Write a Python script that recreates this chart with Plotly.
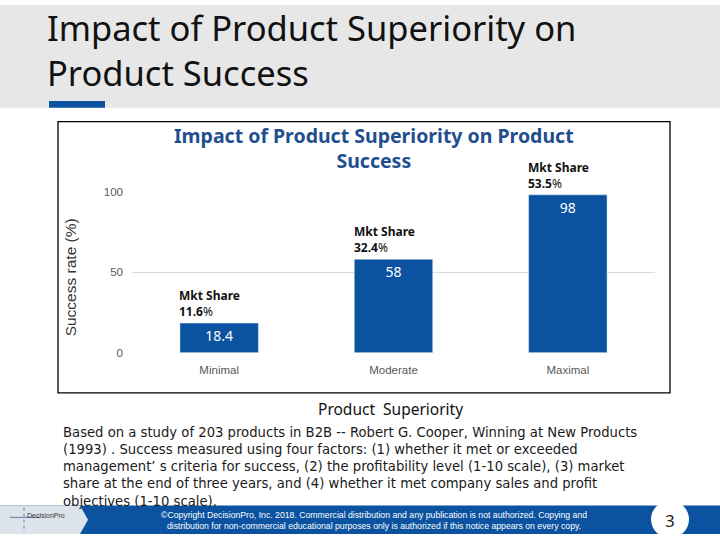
import plotly.graph_objects as go

categories = ["Minimal", "Moderate", "Maximal"]
success_rate = [18.4, 58, 98]
mkt_share = [11.6, 32.4, 53.5]
y_ticks = [0, 50, 100]

header_lines = ["Impact of Product Superiority on", "Product Success"]
chart_title_lines = ["Impact of Product Superiority on Product", "Success"]
note_lines = [
    "Based on a study of 203 products in B2B -- Robert G. Cooper, Winning at New Products",
    "(1993) . Success measured using four factors: (1) whether it met or exceeded",
    "management\u2019 s criteria for success, (2) the profitability level (1-10 scale), (3) market",
    "share at the end of three years, and (4) whether it met company sales and profit",
    "objectives (1-10 scale).",
]

W, H = 720, 540
BAR_BLUE = "#0b52a0"
TITLE_BLUE = "#1f4f8f"

def px(x):
    return x / W

def py(y):
    return 1 - y / H

fig = go.Figure()
fig.add_trace(go.Bar(
    x=categories, y=success_rate, marker_color=BAR_BLUE, width=0.45,
    text=[f"{v:g}" for v in success_rate], textposition="inside",
    insidetextanchor="end", constraintext="none",
    textfont=dict(color="white", size=14, family="Noto Sans"),
    hoverinfo="skip",
))

shapes = [
    dict(type="rect", xref="paper", yref="paper", x0=0, x1=1, y0=py(105), y1=1,
         fillcolor="#e7e7e7", line_width=0, layer="below"),
    dict(type="rect", xref="paper", yref="paper", x0=px(49), x1=px(105), y0=py(105), y1=py(98),
         fillcolor="#0b52a0", line_width=0),
    dict(type="rect", xref="paper", yref="paper", x0=px(58), x1=px(670), y0=py(396), y1=py(119),
         line=dict(color="black", width=1.3), fillcolor="rgba(0,0,0,0)"),
    dict(type="rect", xref="paper", yref="paper", x0=0, x1=1, y0=0, y1=py(511),
         fillcolor="#0b52a0", line_width=0),
    dict(type="path", xref="paper", yref="paper",
         path=f"M 0 {py(511)} L {px(80)} {py(511)} L {px(88)} {py(525.5)} L {px(80)} 0 L 0 0 Z",
         fillcolor="#dde3ea", line_width=0),
    dict(type="circle", xref="paper", yref="paper", x0=px(651), x1=px(689), y0=py(544), y1=py(506),
         fillcolor="white", line_width=0),
    dict(type="line", xref="paper", yref="paper", x0=px(10), x1=px(40), y0=py(523), y1=py(523),
         line=dict(color="#5a7fb0", width=1)),
    dict(type="line", xref="paper", yref="paper", x0=px(24), x1=px(24), y0=py(513), y1=py(538),
         line=dict(color="#5a7fb0", width=1, dash="dot")),
]

annotations = [
    dict(text="<br>".join(header_lines), xref="paper", yref="paper", x=px(45), y=py(-3),
         xanchor="left", yanchor="top", align="left", showarrow=False,
         font=dict(family="Noto Sans", size=34.5, color="#111111")),
    dict(text="<b>" + "<br>".join(chart_title_lines) + "</b>", xref="paper", yref="paper",
         x=px(374), y=py(117), xanchor="center", yanchor="top", align="center", showarrow=False,
         font=dict(family="Noto Sans", size=19.5, color=TITLE_BLUE)),
    dict(text="Success rate (%)", xref="paper", yref="paper", x=px(70), y=py(278),
         textangle=-90, showarrow=False, xanchor="center", yanchor="middle",
         font=dict(family="Liberation Sans", size=15.5, color="#333333")),
    dict(text="Product  Superiority", xref="paper", yref="paper", x=px(391), y=py(412),
         showarrow=False, xanchor="center", yanchor="middle",
         font=dict(family="Noto Sans", size=15.5, color="#111111")),
    dict(text="<br>".join(note_lines), xref="paper", yref="paper", x=px(61), y=py(427),
         xanchor="left", yanchor="top", align="left", showarrow=False,
         font=dict(family="DejaVu Sans", size=13.2, color="#1a1a1a")),
    dict(text=("\u00a9Copyright DecisionPro, Inc. 2018. Commercial distribution and any publication is not authorized. Copying and<br>"
               "distribution for non-commercial educational purposes only is authorized if this notice appears on every copy."),
         xref="paper", yref="paper", x=px(374), y=py(526.5), xanchor="center", yanchor="middle",
         align="center", showarrow=False,
         font=dict(family="Liberation Sans", size=8.7, color="white")),
    dict(text="3", xref="paper", yref="paper", x=px(670), y=py(526), xanchor="center", yanchor="middle",
         showarrow=False, font=dict(family="Noto Sans", size=17, color="#222222")),
    dict(text="DecisionPro", xref="paper", yref="paper", x=px(25), y=py(521), xanchor="left", yanchor="middle",
         showarrow=False, font=dict(family="Liberation Sans", size=7, color="#333333")),
]

for cat, val, share in zip(categories, success_rate, mkt_share):
    annotations.append(dict(
        text=f"<b>Mkt Share</b><br><b>{share:g}</b>%", x=cat, y=val, xref="x", yref="y",
        xanchor="left", yanchor="bottom", xshift=-42, yshift=1, align="left", showarrow=False,
        font=dict(family="Noto Sans", size=12, color="#111111"),
    ))

fig.update_layout(
    width=W, height=H, margin=dict(l=0, r=0, t=0, b=0),
    paper_bgcolor="white", plot_bgcolor="white", showlegend=False,
    shapes=shapes, annotations=annotations,
    xaxis=dict(domain=[px(132), px(655)], showgrid=False, showline=False, zeroline=False,
               tickfont=dict(family="Liberation Sans", size=11.5, color="#595959"), ticks="",
               ticklabelstandoff=9),
    yaxis=dict(domain=[py(355), py(190)], range=[0, 100.3], tickvals=y_ticks,
               showgrid=True, gridcolor="#d9d9d9", zeroline=False, showline=False,
               tickfont=dict(family="Liberation Sans", size=11.5, color="#595959"), ticks="",
               ticklabelstandoff=8),
)

fig.write_html("out.html", config={"displayModeBar": False},
               post_script="document.body.style.margin='0';document.body.style.overflow='hidden';")
